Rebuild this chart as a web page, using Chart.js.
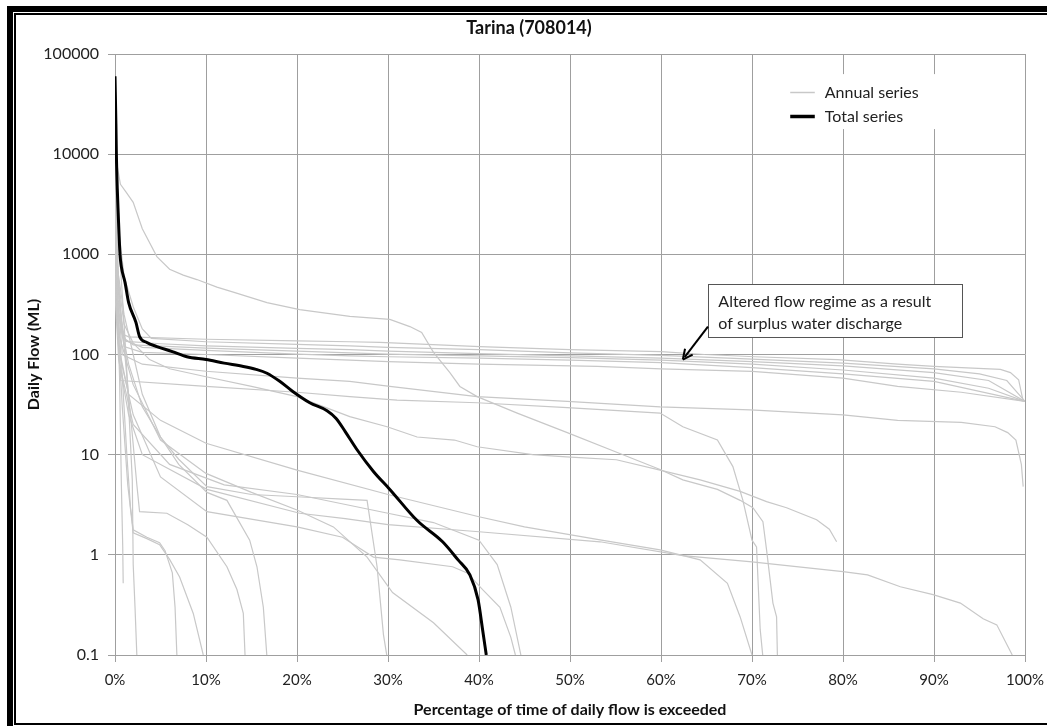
<!DOCTYPE html>
<html>
<head>
<meta charset="utf-8">
<title>Tarina (708014)</title>
<script src="https://cdn.jsdelivr.net/npm/chart.js@4.4.0/dist/chart.umd.min.js"></script>
<style>
  html, body { margin: 0; padding: 0; background: #fff; }
  #wrap { position: relative; width: 1047px; height: 726px; overflow: hidden; }
  #c { position: absolute; left: 0; top: 0; }
  #frame {
    position: absolute; left: 7px; top: 6px; right: -20px; bottom: -6px;
    border: 6px solid #000; box-sizing: border-box; pointer-events: none;
  }
  #frame::after {
    content: ''; position: absolute; left: 1px; top: 1px; right: 1px; bottom: 1px;
    border: 2px solid #000;
  }
</style>
</head>
<body>
<div id="wrap">
  <canvas id="c" width="1047" height="726"></canvas>
  <div id="frame"></div>
</div>
<script>
// Axis ticks
const percentTicks = [0, 10, 20, 30, 40, 50, 60, 70, 80, 90, 100];
const flowTicks = [0.1, 1, 10, 100, 1000, 10000, 100000];
const flowTickLabels = ['0.1', '1', '10', '100', '1000', '10000', '100000'];

// Flow duration curve of the whole record: [percent of time exceeded, daily flow ML]
const totalSeries = [[0,60000],[0.1,20000],[0.15,10000],[0.25,4500],[0.35,2600],[0.55,1000],[0.7,750],[1.1,525],[1.5,330],[2.3,209],[2.7,151],[3.5,132],[4.6,120],[6.3,107],[7.9,95],[10,89],[12,82],[14.1,76],[15.5,71],[16.7,65],[18.1,54],[19.5,43],[21.4,33],[23.3,27.5],[24.3,23],[25.3,17],[26.6,11.2],[28.4,6.8],[30.2,4.5],[33.2,2.2],[36,1.35],[37.7,0.89],[39,0.63],[39.9,0.355],[40.4,0.178],[40.8,0.1]];

// Flow duration curves of individual years
const annual01 = [[0,12000],[0.2,8000],[0.6,5000],[1.2,4200],[2,3300],[3,1800],[4.6,950],[6,710],[7.5,620],[9,560],[11.2,470],[13,420],[16.7,330],[20.3,280],[25.8,240],[30.2,224],[32.4,190],[33.7,166],[35,105],[36.8,66],[37.9,48],[39.8,38],[44.2,26],[49.7,16.6],[55.2,10.5],[59.9,7.1],[62.4,5.6],[66.2,4.5],[68.7,3.5],[70.1,2.95],[71.2,2.14],[71.6,1.12],[72.3,0.33],[72.7,0.24],[72.8,0.09]];
const annual02 = [[0,3000],[0.3,600],[1,200],[2,130],[3.8,89],[6,72],[10,60],[15,48],[20,38],[25.8,24],[29.9,19],[33.2,15],[37.3,14],[39.8,12],[45.9,10],[49.6,9.5],[55.1,8.9],[59.9,7],[64.3,5.6],[68.7,4.3],[71.6,3.4],[73.8,2.95],[77.1,2.24],[78.5,1.8],[79.3,1.35]];
const annual03 = [[0,2000],[0.3,300],[0.6,55],[10,48],[20,42],[25.8,38],[31,35],[39.8,33],[49.7,29.5],[59.9,26],[62.4,19],[66.2,14],[67.9,7.6],[69,3.5],[70,1.4],[70.5,1.2],[70.9,0.18],[71.2,0.095]];
const annual04 = [[0,4000],[0.3,400],[0.8,100],[3,80],[10,68],[20,58],[25.8,54],[30.2,48],[39.8,38],[49.7,34],[59.9,30],[69.8,28],[80,25],[86,22],[93,21],[96.7,19],[98.1,16.6],[99,14],[99.6,8],[99.8,4.8]];
const annual05 = [[0,8000],[0.2,1500],[0.5,300],[0.8,160],[1.5,150],[10,142],[20,137],[25.8,134],[29.1,132],[40.1,120],[50,112],[60,107],[64.8,100],[70.3,95],[79.4,89],[86,80],[90,76],[97.3,71],[98.4,66],[99.3,56],[99.8,34]];
const annual06 = [[0,6000],[0.5,1500],[1,600],[2,300],[3,180],[4,145],[10,134],[20,126],[25.8,122],[30,118],[40,112],[50,104],[60,98],[70,90],[80,82],[90,72],[95,64],[98,55],[100,34]];
const annual07 = [[0,5000],[0.3,800],[0.7,200],[1.2,135],[5,128],[10,122],[20,115],[25.8,112],[30,108],[40,102],[50,97],[60,92],[70,85],[80,77],[90,66],[96,55],[100,34]];
const annual08 = [[0,4000],[0.3,600],[0.8,150],[2,125],[10,116],[20,108],[25.8,104],[30,101],[40,97],[50,93],[60,88],[70,80],[80,70],[90,58],[96,46],[100,34]];
const annual09 = [[0,3000],[0.3,500],[1,140],[3,118],[10,110],[20,101],[25.8,97],[30,95],[40,92],[50,88],[60,83],[70,74],[80,64],[90,54],[100,34]];
const annual10 = [[0,2500],[0.3,300],[1,120],[3,105],[10,100],[20,92],[25.8,88],[30,85],[40,80],[53,76],[60,72],[70,68],[80,58],[86,48],[93,42],[100,34]];
const annual11 = [[0,8000],[0.3,2000],[0.8,400],[1.2,100],[1.6,20],[1.9,5.6],[2,0.8],[2.2,0.3],[2.4,0.1]];
const annual12 = [[0,3000],[0.2,500],[0.5,60],[0.7,5],[0.85,1.2],[0.9,0.52]];
const annual13 = [[0,1500],[0.3,300],[0.8,60],[1.3,10],[1.7,3],[2,1.78],[3.5,1.5],[4.9,1.32],[5.5,1.1],[6.3,0.66],[6.6,0.3],[6.8,0.1]];
const annual14 = [[0,1000],[0.3,200],[0.8,30],[1.4,5],[2,1.66],[3.5,1.45],[4.9,1.26],[6,0.9],[7.1,0.6],[8.6,0.26],[9.7,0.1]];
const annual15 = [[0,2500],[0.4,400],[1,120],[1.8,20],[2.4,5],[2.7,2.7],[5.7,2.6],[8,2.0],[10.1,1.5],[12.3,0.76],[13.4,0.45],[14.1,0.26],[14.3,0.095]];
const annual16 = [[0,2000],[0.3,700],[1,250],[2,100],[3,40],[5,15],[7,8],[10.1,4.2],[12.3,3.5],[14.8,1.4],[15.6,0.76],[16.3,0.3],[16.7,0.095]];
const annual17 = [[0,1000],[0.4,250],[1.5,80],[3,30],[5,15],[7,9],[10.1,4.8],[15,4.0],[20,3.8],[25,3.6],[27.7,3.5],[28.8,0.76],[29.5,0.16],[29.9,0.095]];
const annual18 = [[0,800],[0.5,150],[2,50],[5,14],[10,6.5],[15,4.2],[20,2.8],[24,1.9],[27.7,0.95],[30.5,0.42],[35,0.21],[38.7,0.1]];
const annual19 = [[0,600],[0.5,100],[2,25],[5,6],[10.1,2.7],[20,1.9],[25,1.5],[28.4,0.95],[31.3,0.89],[37.1,0.76],[38.7,0.66],[40.4,0.45],[42.3,0.3],[43.5,0.15],[44,0.1]];
const annual20 = [[0,500],[0.5,80],[2,20],[6,8],[12,5],[20,4],[30,2.6],[35,2.1],[40,1.4],[42,0.8],[43.5,0.3],[44.6,0.1]];
const annual21 = [[0,600],[0.4,120],[1.5,40],[5,22],[10,13],[20,7],[30,4],[40,2.4],[45,1.9],[53.3,1.41],[59.9,1.12],[64.3,0.89],[67.3,0.52],[68.7,0.24],[70,0.1]];
const annual22 = [[0,400],[0.4,90],[1.5,25],[3,10],[10.1,4.5],[20.3,2.6],[25.3,2.3],[30,2],[40,1.7],[53.3,1.35],[62.4,0.98],[70,0.85],[80,0.68],[82.7,0.63],[86.3,0.48],[89.9,0.4],[92.9,0.33],[95.4,0.23],[96.9,0.2],[98.6,0.1]];

const annualCurves = [annual01, annual02, annual03, annual04, annual05, annual06, annual07, annual08, annual09, annual10, annual11,
  annual12, annual13, annual14, annual15, annual16, annual17, annual18, annual19, annual20, annual21, annual22];

// Title, legend and note texts
const chartTitle = 'Tarina (708014)';
const legendLabels = ['Annual series', 'Total series'];
const noteLines = ['Altered flow regime as a result', 'of surplus water discharge'];

const GRID = '#9f9f9f';
const ANNUAL = '#c8c8c8';
const FONT = 'Lato';

const toXY = arr => arr.map(([x, y]) => ({ x, y }));

const datasets = [{
  label: legendLabels[1],
  data: toXY(totalSeries),
  borderColor: '#000',
  borderWidth: 3,
  pointRadius: 0,
  cubicInterpolationMode: 'monotone'
}].concat(annualCurves.map((c, i) => ({
  label: legendLabels[0] + ' ' + (i + 1),
  data: toXY(c),
  borderColor: ANNUAL,
  borderWidth: 1.2,
  pointRadius: 0,
  tension: 0
})));

// Title, legend box, note box and arrow
const overlayPlugin = {
  id: 'overlay',
  afterDraw(chart) {
    const { ctx, scales: { x, y } } = chart;
    const px = v => x.getPixelForValue(v);
    const py = v => y.getPixelForValue(v);
    ctx.save();

    // title
    ctx.fillStyle = '#111';
    ctx.font = 'bold 18px ' + FONT;
    ctx.textAlign = 'center';
    ctx.textBaseline = 'middle';
    ctx.fillText(chartTitle, 529, 28);

    // legend
    ctx.fillStyle = '#fff';
    const lx0 = px(72.3), lx1 = px(91.5), ly0 = py(63000), ly1 = py(17800);
    ctx.fillRect(lx0, ly0, lx1 - lx0, ly1 - ly0);
    ctx.font = '16px ' + FONT;
    ctx.textAlign = 'left';
    const rows = [[41700, ANNUAL, 1.5, legendLabels[0]], [24000, '#000', 3.5, legendLabels[1]]];
    rows.forEach(([v, col, w, txt]) => {
      const yy = Math.round(py(v)) + 0.5;
      ctx.strokeStyle = col; ctx.lineWidth = w;
      ctx.beginPath(); ctx.moveTo(px(74.2), yy); ctx.lineTo(px(76.9), yy); ctx.stroke();
      ctx.fillStyle = '#222';
      ctx.fillText(txt, px(78.0), yy);
    });

    // note box
    const bx0 = Math.round(px(65.16)) + 0.5, bx1 = Math.round(px(93.08)) + 0.5;
    const by0 = Math.round(py(501)) + 0.5, by1 = Math.round(py(151)) + 0.5;
    ctx.fillStyle = '#fff';
    ctx.fillRect(bx0, by0, bx1 - bx0, by1 - by0);
    ctx.strokeStyle = '#555'; ctx.lineWidth = 1;
    ctx.strokeRect(bx0, by0, bx1 - bx0, by1 - by0);
    ctx.fillStyle = '#222';
    ctx.font = '16px ' + FONT;
    ctx.fillText(noteLines[0], px(66.3), py(339));
    ctx.fillText(noteLines[1], px(66.3), py(204));

    // arrow
    const tx = px(65.16), ty = py(190), hx = px(62.4), hy = py(89);
    const ang = Math.atan2(hy - ty, hx - tx);
    const hl = 11;
    ctx.strokeStyle = '#000'; ctx.lineWidth = 2;
    ctx.beginPath(); ctx.moveTo(tx, ty);
    ctx.lineTo(hx - Math.cos(ang) * 3, hy - Math.sin(ang) * 3); ctx.stroke();
    ctx.beginPath();
    ctx.moveTo(hx, hy);
    ctx.lineTo(hx - hl * Math.cos(ang - 0.45), hy - hl * Math.sin(ang - 0.45));
    ctx.moveTo(hx, hy);
    ctx.lineTo(hx - hl * Math.cos(ang + 0.45), hy - hl * Math.sin(ang + 0.45));
    ctx.stroke();
    ctx.restore();
  }
};

new Chart(document.getElementById('c'), {
  type: 'line',
  data: { datasets },
  plugins: [overlayPlugin],
  options: {
    responsive: false,
    animation: false,
    devicePixelRatio: 1,
    layout: { padding: { left: 0, right: 22, top: 54, bottom: 0 } },
    plugins: {
      legend: { display: false },
      tooltip: { enabled: false },
      title: { display: false }
    },
    scales: {
      x: {
        type: 'linear',
        min: 0, max: 100,
        afterBuildTicks: s => { s.ticks = percentTicks.map(v => ({ value: v })); },
        afterFit: s => { s.height = 71; s.paddingRight = 0; s.paddingLeft = 0; },
        ticks: {
          callback: v => v + '%',
          color: '#222',
          font: { family: FONT, size: 15 },
          padding: 9,
          maxRotation: 0
        },
        grid: { color: GRID, tickColor: GRID, tickLength: 7, lineWidth: 1 },
        border: { color: GRID },
        title: {
          display: true,
          text: 'Percentage of time of daily flow is exceeded',
          color: '#111',
          font: { family: FONT, size: 16, weight: 'bold' },
          padding: { top: 0, bottom: 7 }
        }
      },
      y: {
        type: 'logarithmic',
        min: 0.1, max: 100000,
        afterBuildTicks: s => { s.ticks = flowTicks.map(v => ({ value: v })); },
        afterFit: s => { s.width = 115; },
        ticks: {
          callback: (v, i) => flowTickLabels[i],
          color: '#222',
          font: { family: FONT, size: 16 },
          padding: 9
        },
        grid: { color: GRID, tickColor: GRID, tickLength: 7, lineWidth: 1 },
        border: { color: GRID },
        title: {
          display: true,
          text: 'Daily Flow (ML)',
          color: '#111',
          font: { family: FONT, size: 16, weight: 'bold' },
          padding: { top: 24, bottom: 0 }
        }
      }
    }
  }
});
</script>
</body>
</html>
